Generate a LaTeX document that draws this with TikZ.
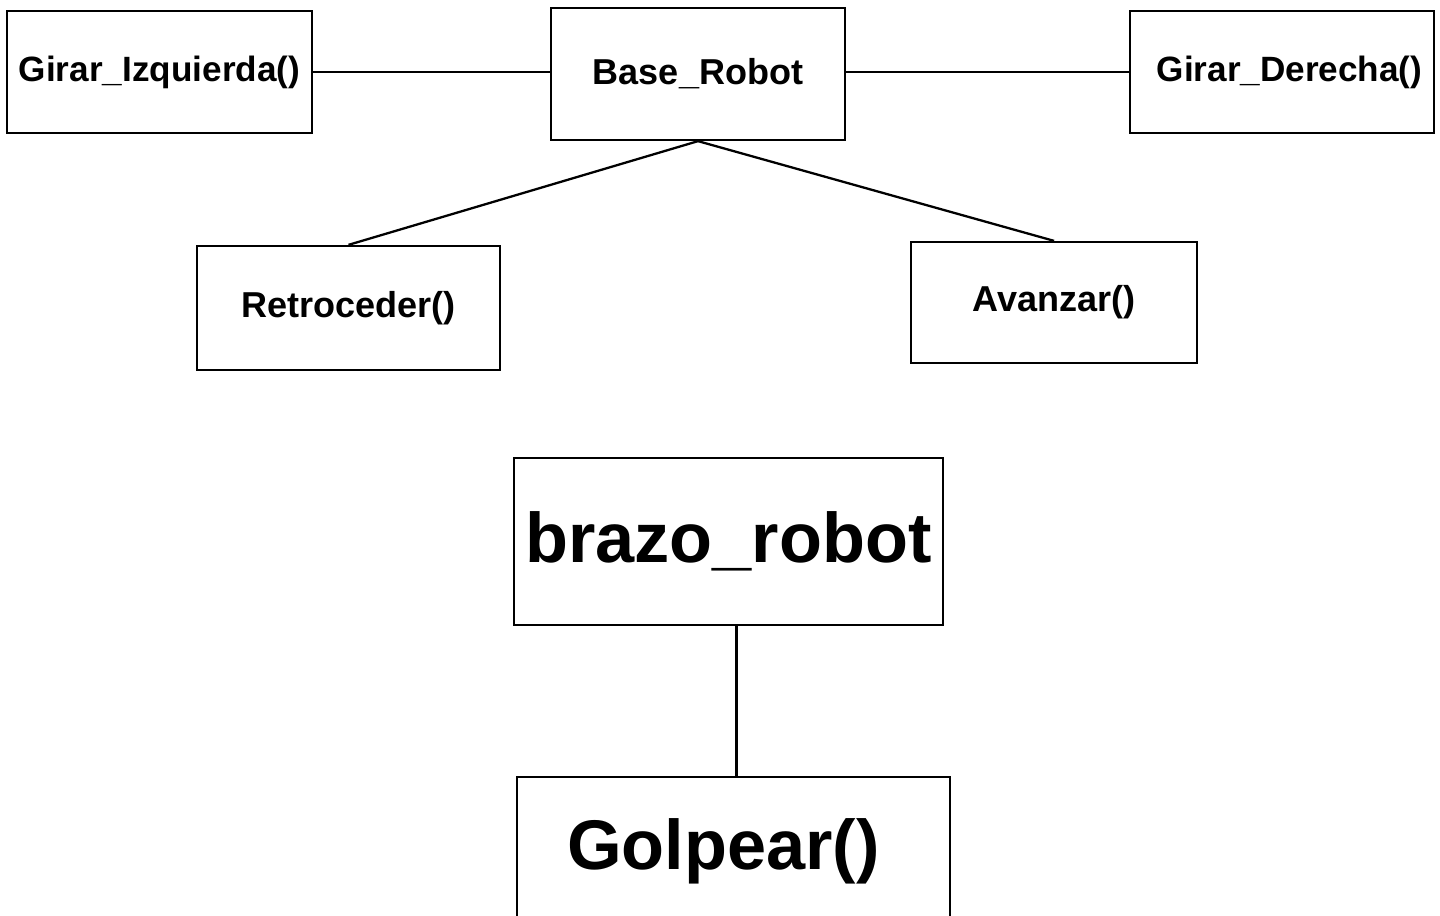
\documentclass[tikz,border=0pt]{standalone}
\usepackage{fontspec}
\setmainfont{Liberation Sans}
\usepackage{tikz}
\usetikzlibrary{arrows, shapes, calc}
\tikzset{
  every node/.style={align=center}
}

\begin{document}
\begin{tikzpicture}[x=0.2mm, y=-0.2mm]
\tikzstyle{method}=[rectangle, draw, line width=1.3pt, inner sep=0pt,
  font=\bfseries\fontsize{20.5}{24}\selectfont]
\tikzstyle{bigmethod}=[rectangle, draw, line width=1.3pt, inner sep=0pt,
  font=\bfseries\fontsize{40}{46}\selectfont]
\tikzstyle{link}=[draw, line width=1.3pt]

\clip (0,0) rectangle (1440,915);

% base del robot
\node[method, minimum width=58.8mm, minimum height=26.4mm](base) at (698,74){Base\_Robot};
\node[method, minimum width=61mm, minimum height=24.4mm](izq) at (159.5,72){\fontsize{20}{24}\selectfont Girar\_Izquierda()};
\node[method, minimum width=60.8mm, minimum height=24.4mm](der) at (1282,72){\hspace*{3mm}\fontsize{20}{24}\selectfont Girar\_Derecha()};
\node[method, minimum width=60.6mm, minimum height=24.8mm](retro) at (348.5,308){Retroceder()};
\node[method, minimum width=57.2mm, minimum height=24.2mm](avan) at (1054,302.5){Avanzar()};

\draw[link](izq.east) to (izq.east -| base.west);
\draw[link](der.west) to (der.west -| base.east);
\draw[link](base.south) to (retro.north);
\draw[link](base.south) to (avan.north);

% brazo del robot
\node[bigmethod, minimum width=85.8mm, minimum height=33.4mm](brazo) at (728.5,541.5){brazo\_robot};
\node[bigmethod, minimum width=86.6mm, minimum height=29.6mm](golpe) at (733.5,851){\hspace*{-4mm}\raisebox{2mm}{Golpear()}};

\draw[link]([xshift=0.6mm]golpe.north) to ([xshift=0.6mm]golpe.north |- brazo.south);

\end{tikzpicture}
\end{document}
